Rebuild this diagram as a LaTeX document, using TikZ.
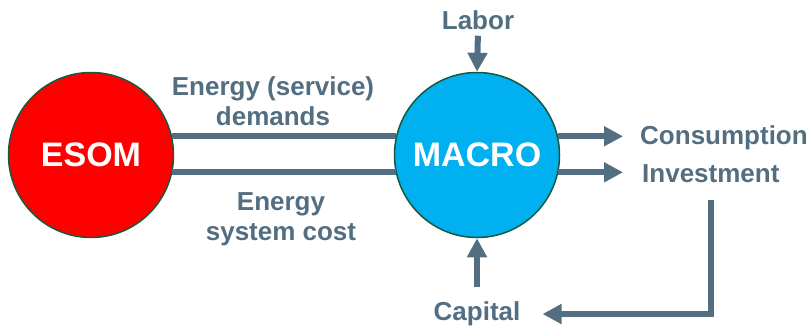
\documentclass[tikz,border=0pt]{standalone}
\usepackage{fontspec}
\setmainfont{Liberation Sans}
\usetikzlibrary{arrows.meta}
\definecolor{slate}{RGB}{82,110,128}
\definecolor{esomred}{RGB}{255,0,0}
\definecolor{macroblue}{RGB}{0,176,240}
\definecolor{rimgreen}{RGB}{20,90,60}

\begin{document}
\begin{tikzpicture}[x=1pt,y=-1pt,
    model/.style={circle, draw=rimgreen, line width=1.5pt, minimum size=165pt,
        inner sep=0pt, text=white, font=\fontsize{34}{40}\selectfont\bfseries},
    lbl/.style={text=slate, font=\fontsize{26}{30.5}\selectfont\bfseries,
        align=center, inner sep=2pt},
    flow/.style={draw=slate, line width=6pt},
    flowarr/.style={flow, -{Triangle[length=19pt,width=19pt]}}]
    \useasboundingbox (0,0) rectangle (811,327);

    \node[model, fill=esomred] (esom) at (91,155) {ESOM};
    \node[model, fill=macroblue] (macro) at (477,155) {MACRO};

    \node[lbl] (demand) at (273,101) {Energy (service)\\demands};
    \node[lbl] (cost) at (281,219) {Energy\\system cost};
    \node[lbl] (labor) at (478,20) {Labor};
    \node[lbl] (capital) at (477,314) {Capital};
    \node[lbl, anchor=west] (consumption) at (638,138) {Consumption};
    \node[lbl, anchor=west] (investment) at (640,174) {Investment};

    \draw[flow] (esom.13) -- (macro.167);
    \draw[flow] (esom.-12) -- (macro.-168);

    \draw[flowarr, shorten >=15pt] (macro.13) -- (macro.13 -| consumption.west);
    \draw[flowarr, shorten >=17pt] (macro.-12) -- (macro.-12 -| investment.west);
    \draw[flowarr, shorten <=4pt] (labor.south) -- (macro.north);
    \draw[flowarr, shorten <=13pt] (capital.north) -- (macro.south);
    \draw[flowarr, shorten <=15pt, shorten >=20pt] (investment.south) |- (capital.east);
\end{tikzpicture}
\end{document}
